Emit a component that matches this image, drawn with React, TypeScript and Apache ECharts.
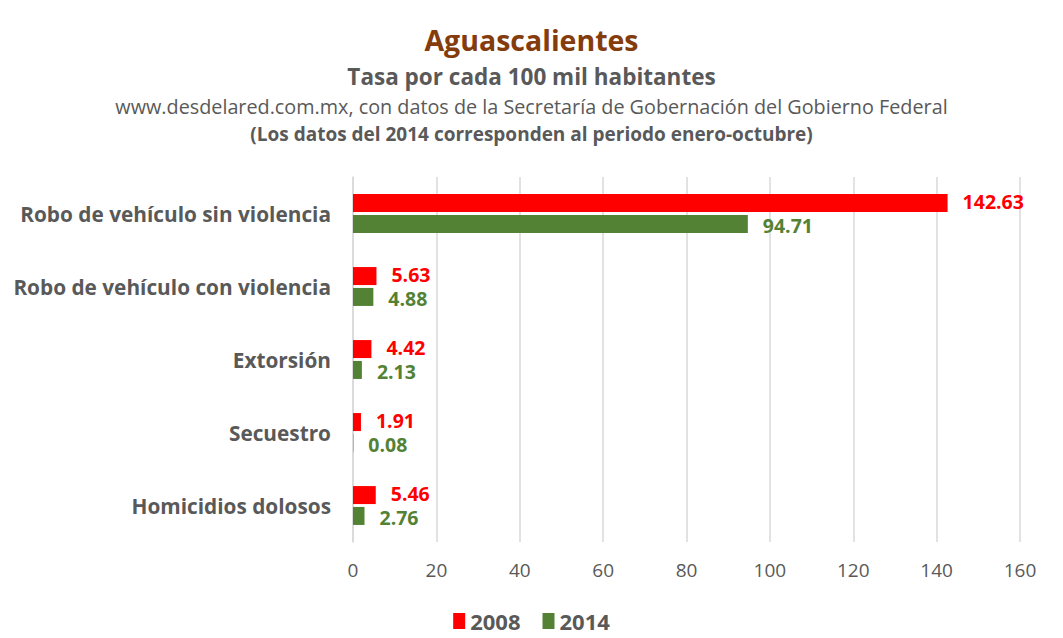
import React, { useEffect, useRef } from "react";
import * as echarts from "echarts";

const categories = [
  "Robo de vehículo sin violencia",
  "Robo de vehículo con violencia",
  "Extorsión",
  "Secuestro",
  "Homicidios dolosos",
];
const values2008 = [142.63, 5.63, 4.42, 1.91, 5.46];
const values2014 = [94.71, 4.88, 2.13, 0.08, 2.76];
const seriesNames = ["2008", "2014"];
const colors = ["#FF0000", "#548235"];

const FONT = "Open Sans";
const GRAY = "#595959";

export default function App() {
  const ref = useRef<HTMLDivElement>(null);
  useEffect(() => {
    if (!ref.current) return;
    const chart = echarts.init(ref.current, undefined, { renderer: "svg" });
    const mkSeries = (name: string, data: number[], color: string, dy: number) => ({
      name,
      type: "bar",
      data,
      barWidth: 18,
      barGap: "16%",
      itemStyle: { color },
      label: {
        show: true,
        position: "right",
        distance: 15,
        offset: [0, dy],
        color,
        fontFamily: FONT,
        fontWeight: "bold",
        fontSize: 19.5,
        lineHeight: 18,
        formatter: (p: any) => p.value.toFixed(2),
      },
    });
    chart.setOption({
      animation: false,
      backgroundColor: "#fff",
      title: [
        {
          text: "Aguascalientes",
          left: "center",
          top: 12,
          textStyle: { color: "#843C0C", fontFamily: FONT, fontWeight: "bold", fontSize: 28.5 },
        },
        {
          text: "Tasa por cada 100 mil habitantes",
          left: "center",
          top: 52,
          textStyle: { color: GRAY, fontFamily: FONT, fontWeight: "bold", fontSize: 22.5 },
        },
        {
          text: "www.desdelared.com.mx, con datos de la Secretaría de Gobernación del Gobierno Federal",
          left: "center",
          top: 83,
          textStyle: { color: GRAY, fontFamily: FONT, fontWeight: "normal", fontSize: 19.8 },
        },
        {
          text: "(Los datos del 2014 corresponden al periodo enero-octubre)",
          left: "center",
          top: 111,
          textStyle: { color: GRAY, fontFamily: FONT, fontWeight: "bold", fontSize: 19 },
        },
      ],
      legend: {
        top: 597,
        left: "center",
        data: seriesNames,
        itemWidth: 12,
        itemHeight: 16,
        itemGap: 22,
        icon: "rect",
        textStyle: { color: GRAY, fontFamily: FONT, fontWeight: "bold", fontSize: 22 },
      },
      grid: { left: 345, right: 35, top: 169, bottom: 96, containLabel: false },
      xAxis: {
        type: "value",
        min: 0,
        max: 160,
        interval: 20,
        axisLine: { show: false },
        axisTick: { show: false },
        splitLine: { lineStyle: { color: "#D9D9D9", width: 1.5 } },
        axisLabel: { color: GRAY, fontFamily: FONT, fontSize: 19, margin: 18 },
      },
      yAxis: {
        type: "category",
        data: categories,
        inverse: true,
        axisLine: { show: true, lineStyle: { color: "#D9D9D9", width: 1.5 } },
        axisTick: { show: false },
        axisLabel: { color: GRAY, fontFamily: FONT, fontWeight: "bold", fontSize: 20.8, margin: 22 },
      },
      series: [
        mkSeries(seriesNames[0], values2008, colors[0], -2),
        mkSeries(seriesNames[1], values2014, colors[1], 2),
      ],
    });
    return () => chart.dispose();
  }, []);
  return <div ref={ref} style={{ width: 1047, height: 630 }} />;
}
